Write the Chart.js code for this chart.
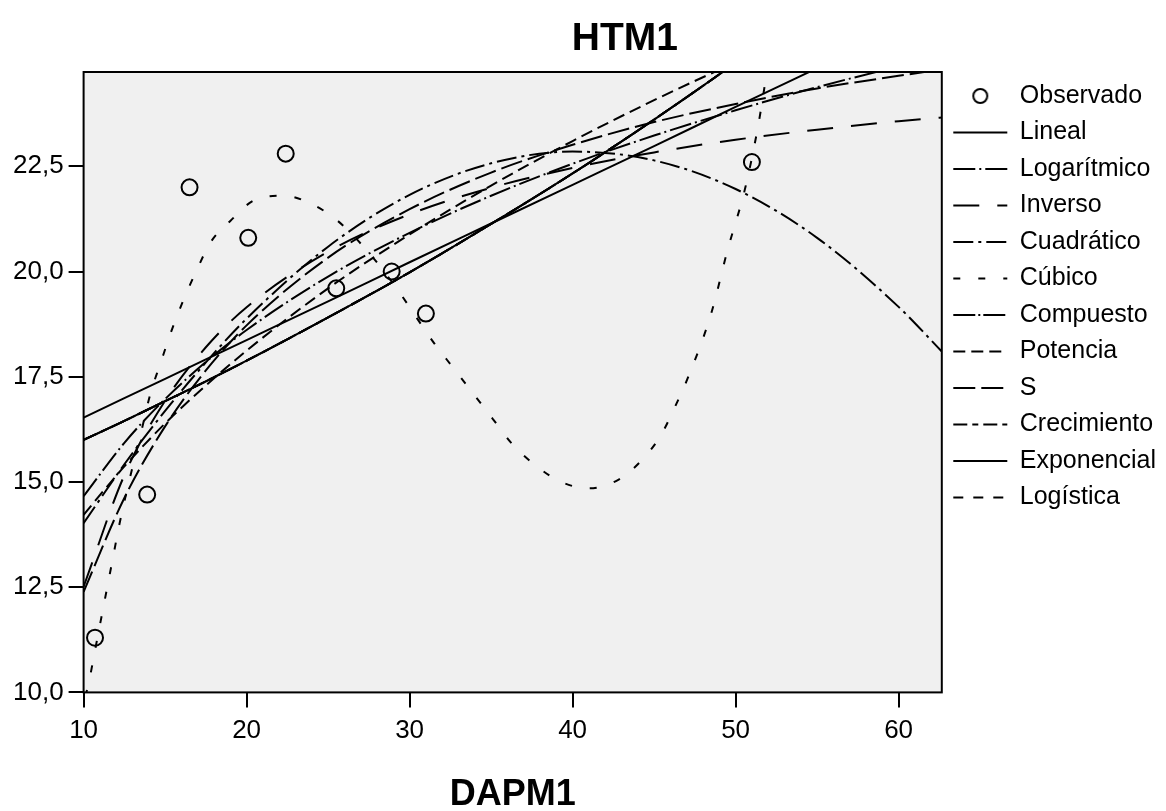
<!DOCTYPE html>
<html>
  <head>
    <meta charset="utf-8">
    <title>HTM1</title>
    <script src="https://cdn.jsdelivr.net/npm/chart.js"></script>
    <style>
      html, body { margin: 0; padding: 0; background: #fff; }
      #wrap { width: 1166px; height: 811px; }
    </style>
  </head>
  <body>
    <div id="wrap">
      <canvas id="myChart"></canvas>
    </div>

  <script>
    // observed values (DAPM1, HTM1)
    const dapObs = [10.7, 13.9, 16.5, 20.1, 22.4, 25.5, 28.9, 31.0, 51.0];
    const htmObs = [11.3, 14.7, 22.0, 20.8, 22.8, 19.6, 20.0, 19.0, 22.6];

    // fitted curves at these DAPM1 values
    const xFit = [10, 12.5, 15, 17.5, 20, 25, 30, 35, 40, 45, 50, 55, 60, 62.65];
    const linealY = [16.53, 16.99, 17.45, 17.91, 18.37, 19.29, 20.22, 21.14, 22.06, 22.98, 23.91, 24.83, 25.75, 26.24];
    const logY    = [14.66, 15.93, 16.97, 17.85, 18.61, 19.88, 20.92, 21.80, 22.56, 23.23, 23.83, 24.38, 24.87, 25.11];
    const invY    = [12.51, 15.16, 16.93, 18.20, 19.15, 20.47, 21.36, 21.99, 22.46, 22.83, 23.13, 23.37, 23.57, 23.66];
    const quadY   = [14.02, 15.42, 16.69, 17.84, 18.88, 20.59, 21.82, 22.57, 22.85, 22.64, 21.96, 20.80, 19.16, 18.10];
    const powY    = [14.22, 15.37, 16.39, 17.29, 18.12, 19.60, 20.88, 22.04, 23.10, 24.07, 24.97, 25.82, 26.62, 27.02];
    const sY      = [12.39, 14.62, 16.32, 17.65, 18.72, 20.33, 21.48, 22.35, 23.01, 23.55, 23.98, 24.35, 24.65, 24.80];
    // compuesto, crecimiento, exponencial and logistica lie on the same curve
    const expY    = [16.00, 16.45, 16.92, 17.39, 17.88, 18.91, 19.98, 21.13, 22.33, 23.61, 24.96, 26.38, 27.89, 28.71];

    // cubic has its own sample points (it bends a lot)
    const cubX = [10.1, 10.3, 10.7, 11.4, 11.8, 12.2, 12.6, 13.6, 14.1, 14.7, 15.4, 16.1, 16.9, 17.8, 19.0, 20.5, 22.3, 24.0, 25.6, 27.6,
                  29.2, 31.5, 32.7, 33.9, 35.1, 36.3, 37.7, 39.3, 41.0, 42.8, 44.2, 45.4, 46.3, 47.1, 48.5, 49.5, 50.6, 51.4, 51.9, 52.5];
    const cubY = [9.9, 10.2, 11.0, 12.4, 13.2, 14.0, 14.7, 16.3, 17.1, 17.8, 18.6, 19.3, 20.0, 20.7, 21.2, 21.7, 21.8, 21.6, 21.2, 20.4,
                  19.6, 18.3, 17.7, 17.1, 16.5, 15.9, 15.4, 15.0, 14.85, 15.05, 15.5, 16.1, 16.8, 17.5, 19.0, 20.5, 22.0, 23.5, 24.7, 26.2];

    const yTicks = [10, 12.5, 15, 17.5, 20, 22.5];
    const xTicks = [10, 20, 30, 40, 50, 60];
    const yMin = 10, yMax = 24.74;
    const xMin = 10, xMax = 62.65;

    const pts = (xs, ys) => xs.map((x, i) => ({x: x, y: ys[i]}));

    function curve(label, ys, dash, xs) {
      return {
        label: label,
        data: pts(xs || xFit, ys),
        showLine: true,
        borderColor: '#000',
        backgroundColor: '#000',
        borderWidth: 2,
        borderDash: dash,
        pointRadius: 0,
        pointHoverRadius: 0,
        pointStyle: 'line',
        cubicInterpolationMode: 'monotone'
      };
    }

    // small hollow circle for the legend entry of the observed points
    const legendCircle = document.createElement('canvas');
    legendCircle.width = 20; legendCircle.height = 20;
    (function(){
      let c = legendCircle.getContext('2d');
      c.strokeStyle = '#000'; c.lineWidth = 2;
      c.beginPath(); c.arc(10, 10, 7, 0, Math.PI * 2); c.stroke();
    })();

    const data = {
      datasets: [
        {
          label: 'Observado',
          data: pts(dapObs, htmObs),
          showLine: false,
          pointStyle: 'circle',
          pointRadius: 8,
          pointHoverRadius: 8,
          pointBorderWidth: 2,
          borderColor: '#000',
          pointBackgroundColor: 'rgba(0,0,0,0)'
        },
        curve('Lineal', linealY, []),
        curve('Logarítmico', logY, [22, 4, 2, 4]),
        curve('Inverso', invY, [26, 18]),
        curve('Cuadrático', quadY, [20, 5, 3, 5]),
        curve('Cúbico', cubY, [7, 18], cubX),
        curve('Compuesto', expY, [22, 3, 2, 3]),
        curve('Potencia', powY, [12, 6]),
        curve('S', sY, [22, 6]),
        curve('Crecimiento', expY, [14, 5, 6, 5]),
        curve('Exponencial', expY, []),
        curve('Logística', expY, [10, 10])
      ]
    };

    const plotFrame = {
      id: 'plotFrame',
      beforeDatasetsDraw(chart) {
        const a = chart.chartArea, c = chart.ctx;
        c.save();
        c.fillStyle = '#f0f0f0';
        c.fillRect(a.left, a.top, a.right - a.left, a.bottom - a.top);
        c.restore();
      },
      afterDatasetsDraw(chart) {
        const a = chart.chartArea, c = chart.ctx;
        c.save();
        c.strokeStyle = '#000';
        c.lineWidth = 2;
        c.strokeRect(a.left, a.top, a.right - a.left, a.bottom - a.top);
        c.restore();
      },
      afterDraw(chart) {
        const a = chart.chartArea, c = chart.ctx;
        c.save();
        c.font = 'bold 39px "Liberation Sans", Arial, sans-serif';
        c.fillStyle = '#000';
        c.textAlign = 'center';
        c.textBaseline = 'middle';
        c.fillText('HTM1', (a.left + chart.width) / 2, 39);
        c.restore();
      }
    };

    const tickFont = { family: '"Liberation Sans", Arial, sans-serif', size: 26 };

    const config = {
      type: 'scatter',
      data: data,
      options: {
        responsive: true,
        maintainAspectRatio: false,
        animation: false,
        layout: { padding: { top: 72, left: 8, right: 0, bottom: 0 } },
        scales: {
          x: {
            type: 'linear',
            min: xMin, max: xMax,
            afterBuildTicks: s => { s.ticks = xTicks.map(v => ({value: v})); },
            ticks: { color: '#000', font: tickFont, padding: 8, maxRotation: 0, autoSkip: false },
            grid: { drawOnChartArea: false, drawTicks: true, tickLength: 15, color: '#000', lineWidth: 2 },
            border: { display: false },
            title: {
              display: true, text: 'DAPM1', color: '#000',
              font: { family: '"Liberation Sans", Arial, sans-serif', size: 36, weight: 'bold', lineHeight: 0.9 },
              padding: { top: 24, bottom: 0 }
            }
          },
          y: {
            type: 'linear',
            min: yMin, max: yMax,
            afterBuildTicks: s => { s.ticks = yTicks.map(v => ({value: v})); },
            ticks: {
              color: '#000', font: tickFont, padding: 5, autoSkip: false,
              callback: v => v.toFixed(1).replace('.', ',')
            },
            grid: { drawOnChartArea: false, drawTicks: true, tickLength: 15, color: '#000', lineWidth: 2 },
            border: { display: false }
          }
        },
        plugins: {
          title: { display: false },
          tooltip: { enabled: false },
          legend: {
            position: 'right',
            align: 'start',
            labels: {
              color: '#000',
              font: { family: '"Liberation Sans", Arial, sans-serif', size: 25 },
              usePointStyle: true,
              pointStyleWidth: 54,
              padding: 11.5,
              generateLabels: chart => {
                const items = Chart.defaults.plugins.legend.labels.generateLabels(chart);
                items.forEach(it => {
                  const ds = chart.data.datasets[it.datasetIndex];
                  if (it.datasetIndex === 0) {
                    it.pointStyle = legendCircle;
                  } else {
                    it.pointStyle = 'line';
                    it.lineWidth = 2;
                    it.strokeStyle = '#000';
                    it.lineDash = ds.borderDash;
                  }
                });
                return items;
              }
            }
          }
        }
      },
      plugins: [plotFrame]
    };

    window.myChart = new Chart(document.getElementById('myChart'), config);
  </script>
  </body>
</html>
